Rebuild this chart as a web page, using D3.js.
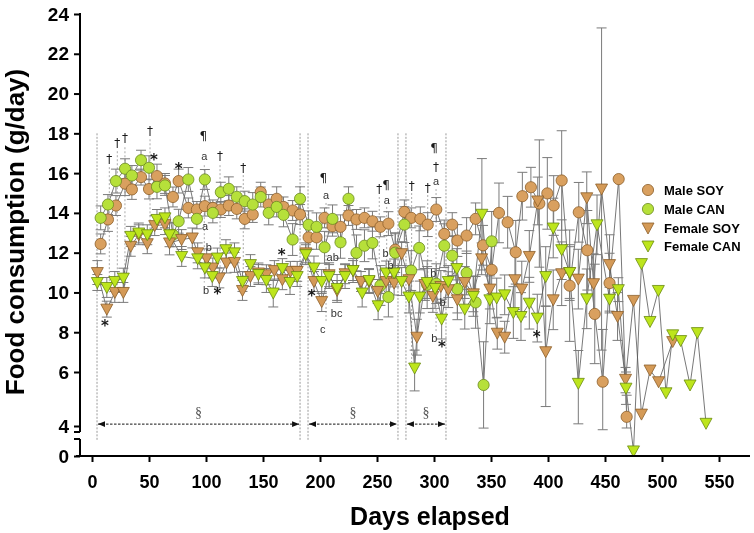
<!DOCTYPE html>
<html><head><meta charset="utf-8">
<script src="https://cdn.jsdelivr.net/npm/d3@7"></script>
<style>body{margin:0;background:#fff}svg{display:block;font-family:"Liberation Sans",Arial,Helvetica,sans-serif;will-change:transform}text{-webkit-font-smoothing:antialiased}</style>
</head><body><svg id="c" width="754" height="533"></svg>
<script>
// ---------------- DATA ----------------
const xTicks = [0,50,100,150,200,250,300,350,400,450,500,550];
const yTicksUpper = [4,6,8,10,12,14,16,18,20,22,24];
const yTicksLower = [0];
const seriesNames = ["Male SOY","Male CAN","Female SOY","Female CAN"];

const maleSoyDays = [7.6,14,21,29,35,43,50,57,64,71,76,84.5,92,99,106,113,120,127,134,141,148,155,162,168,176,182.5,190,197,204,211,218,225,232,239,246,253,260,266,274,280,288,294.5,302,309,316,320.5,328.6,336.5,343,350.6,357,364.6,371.7,377.5,385,392.4,399.4,405,412,419,427,434.5,441,448,454,462,469];
const maleSoyVals = [12.44,13.67,14.37,15.47,15.18,15.8,15.2,15.85,15.48,14.8,15.6,14.25,14.17,14.34,14.25,14.17,14.37,14.2,13.7,13.92,15.04,14.42,14.71,14.3,14.12,13.92,12.77,12.77,13.75,13.33,13.3,13.87,13.67,13.75,13.58,13.3,13.46,12.15,14.05,13.75,13.7,13.41,14.17,12.94,13.41,12.61,12.86,13.7,12.37,11.14,14.0,13.53,12.02,14.84,15.29,14.47,14.98,14.37,15.63,10.34,14.03,12.12,8.92,5.64,10.47,15.7,4.34];
const maleSoyErr = [0.5,0.6,0.5,0.6,0.5,0.4,0.5,0.6,0.5,0.5,0.6,0.5,0.4,0.5,0.4,0.4,0.5,0.5,0.5,0.4,0.5,0.5,0.6,0.5,0.5,0.5,0.6,0.6,0.5,0.5,0.6,0.5,0.5,0.5,0.5,0.5,0.6,0.8,0.6,0.5,0.6,0.6,0.6,0.7,0.6,0.8,0.9,0.8,1.0,1.2,1.5,1.3,1.6,1.2,1.0,3.2,1.8,1.5,2.5,2.8,1.5,2.0,2.5,2.5,1.5,0,0.8];

const maleCanDays = [7.6,14,21,29,35,43,50,57,64,71,76,84.5,92,99,106,113,120,127,134,141,148,155,162,168,176,182.5,190,197,204,211,218,225,232,239,246,253,260,266,274,280,287,294,302,309,316,320.5,328.6,336.5,343.5,350.6];
const maleCanVals = [13.75,14.42,15.6,16.22,15.88,16.65,16.27,15.31,15.38,12.9,13.58,15.68,13.7,15.68,14.0,15.04,15.21,14.81,14.59,14.42,14.8,14.0,14.3,13.9,12.66,14.71,13.4,13.3,12.27,13.7,12.52,14.71,11.99,12.35,12.49,10.35,9.77,12.0,13.41,11.1,12.24,10.39,10.44,12.35,11.85,10.17,10.98,9.5,5.52,12.57];
const maleCanErr = [0.6,0.5,0.6,0.5,0.5,0.5,0.6,0.6,0.5,0.6,0.6,0.6,0.5,0.5,0.5,0.5,0.6,0.5,0.5,0.6,0.5,0.6,0.5,0.6,0.8,0.6,0.7,0.7,0.8,0.7,0.8,0.6,0.9,0.8,0.8,1.0,1.0,1.0,0.9,1.0,1.1,1.2,1.0,1.1,1.0,1.2,1.1,1.3,2.0,1.5];

const femaleSoyDays = [4.7,13,20,27.5,34,41,48.5,55,64,68,78.6,88,92.7,100.6,106,111.7,118,125,132,139,146,153,160,167,174,180,187.5,194.7,201.5,208,215,222,229,236,243,250.6,258,265,271.6,278,285,292,299,306,312.5,320.5,327,334.5,341.8,349,355.5,362,371,377,383.6,391,398,404.6,412,419,426.6,434,440,447,454,461,468,475,482,489.5,497,509.4];
const femaleSoyVals = [11.0,9.16,10.0,10.0,12.32,12.9,12.45,13.36,13.41,12.49,12.66,12.74,11.99,11.69,11.23,10.73,11.48,11.51,10.1,10.8,10.98,10.89,11.1,10.64,11.06,11.06,11.99,10.55,9.54,10.89,10.1,10.94,11.1,10.55,10.55,10.05,10.55,10.47,11.95,10.64,7.75,10.4,9.8,10.3,10.14,9.63,10.5,9.93,11.69,10.17,7.95,7.75,10.64,10.17,11.81,14.6,7.02,9.63,10.94,11.0,10.67,14.76,10.44,15.2,11.4,8.79,5.73,9.6,4.44,6.1,5.64,7.53];
const femaleSoyErr = [0.6,0.4,0.5,0.5,0.5,0.5,0.5,0.5,0.5,0.6,0.5,0.5,0.5,0.5,0.5,0.5,0.5,0.5,0.5,0.5,0.5,0.5,0.5,0.5,0.5,0.5,0.5,0.5,0.5,0.6,0.5,0.5,0.5,0.5,0.6,0.6,0.6,0.6,0.6,0.7,0.9,0.8,0.8,0.8,0.9,1.0,0.8,0.9,0.8,1.0,0.8,0.8,1.5,1.4,1.3,1.2,2.3,1.5,1.6,1.4,1.5,1.3,1.5,8.1,1.5,1.2,0.5,0,0,0,0,0];

const femaleCanDays = [4.7,13,20,27.5,34,41,48.5,57,64,68,78.7,92.7,99,105.5,110,117.5,125,132,139,146,153,159,167,173.7,180,187.5,194.7,201.5,208,215,222,229,237,243,251,258,265,271.6,278,283,287.5,294,301,306.7,312.5,320,327,334.5,342,349,355,362,369.6,376.3,383.6,390.6,398,404.6,412,419,426.6,434,443,454,461.7,468.4,475,482,489.5,496.8,503.5,509.4,516.4,524.6,531,538.6];
const femaleCanVals = [10.5,10.25,10.55,10.72,12.82,12.99,12.9,13.67,13.75,12.9,11.81,11.69,11.23,10.8,11.73,12.15,11.99,10.55,11.4,10.9,10.6,9.97,11.2,10.5,10.8,11.9,11.23,10.55,10.8,10.2,10.8,11.1,9.97,10.6,9.33,10.98,10.98,10.55,9.77,6.2,9.77,10.5,10.2,8.66,10.55,11.2,9.16,9.8,13.93,9.63,9.72,9.88,8.99,8.79,9.46,8.71,10.8,13.24,12.15,11.0,5.58,9.68,13.4,9.66,10.14,5.4,0.3,11.45,8.54,10.1,5.23,7.87,7.58,5.52,7.98,4.1];
const femaleCanErr = [0.4,0.5,0.5,0.5,0.5,0.5,0.5,0.5,0.5,0.6,0.5,0.5,0.5,0.5,0.5,0.5,0.5,0.5,0.5,0.5,0.6,0.7,0.5,0.6,0.5,0.5,0.6,0.6,0.6,0.7,0.6,0.6,0.7,0.6,0.7,0.6,0.7,0.7,0.8,0.9,0.8,0.8,1.0,1.0,0.8,1.0,1.0,1.0,2.8,1.2,1.0,1.0,1.3,1.2,1.3,1.2,1.5,1.5,1.5,1.3,1.5,1.5,1.5,0.6,0.6,0.6,0,0,0,0,0,0,0,0,0,0];

// significance annotations (day, value)
const annoText = ["*","†","†","†","†","*","*","¶","a","a","b","b","*","†","†","*","¶","a","ab","*","bc","c","†","¶","a","b","b","†","†","¶","†","a","b","b","b","*","*"];
const annoDay  = [11.4,15.2,22.2,28.9,50.9,54.4,76,97.6,98.5,99.1,102.4,100,110,112.3,132.7,166.4,202.9,205.3,211.1,192.7,214.6,202.4,252,257.9,258.5,257.6,262,280.4,294.5,300,301.8,301.8,299.4,307.6,300.3,307,390];
const annoVal  = [8.3,16.71,17.52,17.77,18.1,16.65,16.2,17.85,16.84,13.32,12.31,10.13,9.93,16.84,16.26,11.88,15.75,14.91,11.77,9.82,8.96,8.15,15.2,15.42,14.66,11.98,11.39,15.37,15.25,17.26,16.31,15.58,11.0,9.54,7.7,7.25,7.75];

// dotted guide lines below annotations
const guideDay = [15.2,22.2,28.9,50.9,98.5,112.3,132.7,205.3,252,258.5,280.4,294.5,301.8];
const guideTop = [16.3,17.1,17.3,17.7,16.4,16.4,15.9,14.5,14.8,14.3,15.0,14.9,15.2];
const guideBot = [10.0,10.2,10.2,12.6,10.5,10.5,10.3,8.5,9.5,10.5,6.5,9.8,8.0];

// study phases
const phaseStart = [4.4,189.5,275.4];
const phaseEnd   = [182.5,268.4,310.5];
const phaseLabel = ["§","§","§"];
const phaseLineTop = 18, phaseLineBottom = 0.9, phaseArrowVal = 4.07, phaseLabelVal = 4.5;

// ---------------- CHART ----------------
const svg = d3.select('#c');
const x = d3.scaleLinear().domain([0,550]).range([92,719]);
const y = d3.scaleLinear().domain([0,1,4,6,24]).range([456,439,426,372,14]);
const axX = 80;
const glyphFont = '"DejaVu Sans",sans-serif';

const styles = {
  "Male SOY":   {shape:"circle",   fill:"#D9A05F", stroke:"#8C5E2A"},
  "Male CAN":   {shape:"circle",   fill:"#B6E03A", stroke:"#6B8A1F"},
  "Female SOY": {shape:"triangle", fill:"#D49A57", stroke:"#8C5E2A"},
  "Female CAN": {shape:"triangle", fill:"#BDE51C", stroke:"#6A8A10"}
};
const mk = (days, vals, errs) => days.map((d,i)=>({day:d, v:vals[i], e:errs[i]}));
const series = [
  {name:"Male SOY", pts:mk(maleSoyDays,maleSoyVals,maleSoyErr)},
  {name:"Male CAN", pts:mk(maleCanDays,maleCanVals,maleCanErr)},
  {name:"Female SOY", pts:mk(femaleSoyDays,femaleSoyVals,femaleSoyErr)},
  {name:"Female CAN", pts:mk(femaleCanDays,femaleCanVals,femaleCanErr)}
];

// defs
const defs = svg.append('defs');
['aL','aR'].forEach((id,k)=>{
  defs.append('marker').attr('id',id).attr('viewBox','0 0 10 10')
    .attr('refX', k===0?0:10).attr('refY',5).attr('markerWidth',7).attr('markerHeight',7)
    .attr('orient','auto').append('path')
    .attr('d', k===0 ? 'M10,1 L0,5 L10,9 Z' : 'M0,1 L10,5 L0,9 Z').attr('fill','#111');
});

// phase lines
const gPh = svg.append('g');
phaseStart.forEach((s,i)=>{
  [s, phaseEnd[i]].forEach(d=>{
    gPh.append('line').attr('x1',x(d)).attr('x2',x(d)).attr('y1',y(phaseLineTop)).attr('y2',y(phaseLineBottom))
      .attr('stroke','#9a9a9a').attr('stroke-width',1).attr('stroke-dasharray','2,1.5');
  });
  gPh.append('line').attr('x1',x(s)+1).attr('x2',x(phaseEnd[i])-1).attr('y1',y(phaseArrowVal)).attr('y2',y(phaseArrowVal))
    .attr('stroke','#111').attr('stroke-width',1).attr('stroke-dasharray','2.5,1.5')
    .attr('marker-start','url(#aL)').attr('marker-end','url(#aR)');
  gPh.append('text').attr('x',x((s+phaseEnd[i])/2)).attr('y',y(phaseLabelVal)).attr('text-anchor','middle')
    .attr('dominant-baseline','central').attr('font-family','"Liberation Serif",serif').attr('font-size',14).attr('fill','#555').text(phaseLabel[i]);
});

// guide lines
guideDay.forEach((d,i)=>{
  svg.append('line').attr('x1',x(d)).attr('x2',x(d)).attr('y1',y(guideTop[i])).attr('y2',y(guideBot[i]))
    .attr('stroke','#aaa').attr('stroke-width',1).attr('stroke-dasharray','2,2');
});

// connecting lines
const line = d3.line().x(d=>x(d.day)).y(d=>y(d.v));
series.forEach(s=>{
  svg.append('path').datum(s.pts).attr('d',line).attr('fill','none').attr('stroke','#555').attr('stroke-width',0.8);
});
// error bars
series.forEach(s=>{
  const g = svg.append('g').attr('stroke','#7a7a7a').attr('stroke-width',1);
  s.pts.filter(p=>p.e>0).forEach(p=>{
    const cx=x(p.day), y1=y(p.v+p.e), y2=y(p.v-p.e);
    g.append('line').attr('x1',cx).attr('x2',cx).attr('y1',y1).attr('y2',y2);
    g.append('line').attr('x1',cx-5).attr('x2',cx+5).attr('y1',y1).attr('y2',y1);
    g.append('line').attr('x1',cx-5).attr('x2',cx+5).attr('y1',y2).attr('y2',y2);
  });
});
// markers
const tri = 'M-6,-5L6,-5L0,6Z';
function drawMarker(g, st, cx, cy){
  if(st.shape==='circle'){
    g.append('circle').attr('cx',cx).attr('cy',cy).attr('r',5.6).attr('fill',st.fill).attr('stroke',st.stroke).attr('stroke-width',0.8);
  } else {
    g.append('path').attr('d',tri).attr('transform',`translate(${cx},${cy})`).attr('fill',st.fill).attr('stroke',st.stroke).attr('stroke-width',0.8);
  }
}
series.forEach(s=>{
  const g = svg.append('g'); const st = styles[s.name];
  s.pts.forEach(p=>drawMarker(g, st, x(p.day), y(p.v)));
});

// annotations
annoText.forEach((t,i)=>{
  const isLetter = /^[a-c]+$/.test(t);
  svg.append('text').attr('x',x(annoDay[i])).attr('y',y(annoVal[i])).attr('text-anchor','middle')
    .attr('dominant-baseline','central')
    .attr('font-family', isLetter ? '"Liberation Sans",Arial,sans-serif' : glyphFont)
    .attr('font-size', t==='*'?15:(isLetter?11:12)).attr('font-weight', t==='*'?'bold':'normal')
    .attr('fill', isLetter?'#333':'#1a1a1a').text(t);
});

// axes
const ax = svg.append('g').attr('stroke','#000').attr('stroke-width',2);
ax.append('line').attr('x1',axX).attr('x2',axX).attr('y1',y(24)-1).attr('y2',432);
ax.append('line').attr('x1',axX-6).attr('x2',axX).attr('y1',432).attr('y2',432);
ax.append('line').attr('x1',axX).attr('x2',axX).attr('y1',439).attr('y2',y(0));
ax.append('line').attr('x1',axX-6).attr('x2',axX).attr('y1',439).attr('y2',439);
ax.append('line').attr('x1',axX-4).attr('x2',750).attr('y1',y(0)).attr('y2',y(0));

const yAxisG = svg.append('g').attr('transform',`translate(${axX},0)`)
  .call(d3.axisLeft(y).tickValues(yTicksUpper.concat(yTicksLower)).tickSize(6).tickPadding(5).tickFormat(d3.format('d')));
yAxisG.select('.domain').remove();
yAxisG.selectAll('.tick line').attr('stroke','#000').attr('stroke-width',2);
yAxisG.selectAll('.tick text').attr('font-size',19).attr('font-weight','bold').attr('fill','#000')
  .attr('font-family','"Liberation Sans",Arial,sans-serif');

const xAxisG = svg.append('g').attr('transform',`translate(0,${y(0)})`)
  .call(d3.axisBottom(x).tickValues(xTicks).tickSize(6).tickPadding(13).tickFormat(d3.format('d')));
xAxisG.select('.domain').remove();
xAxisG.selectAll('.tick line').attr('stroke','#000').attr('stroke-width',2);
xAxisG.selectAll('.tick text').attr('font-size',18).attr('font-weight','bold').attr('fill','#000')
  .attr('font-family','"Liberation Sans",Arial,sans-serif');

// titles
svg.append('text').attr('transform','translate(15,232) rotate(-90)').attr('text-anchor','middle')
  .attr('dominant-baseline','central').attr('font-size',26).attr('font-weight','bold').text('Food consumption (g/day)');
svg.append('text').attr('x',430).attr('y',525).attr('text-anchor','middle')
  .attr('font-size',25).attr('font-weight','bold').text('Days elapsed');

// legend
const legY = [190,209,228,246];
seriesNames.forEach((n,i)=>{
  const g = svg.append('g');
  drawMarker(g, styles[n], 648, legY[i]);
  g.append('text').attr('x',664).attr('y',legY[i]).attr('dominant-baseline','central')
    .attr('font-size',13).attr('font-weight','bold').text(n);
});
</script>
</body></html>
